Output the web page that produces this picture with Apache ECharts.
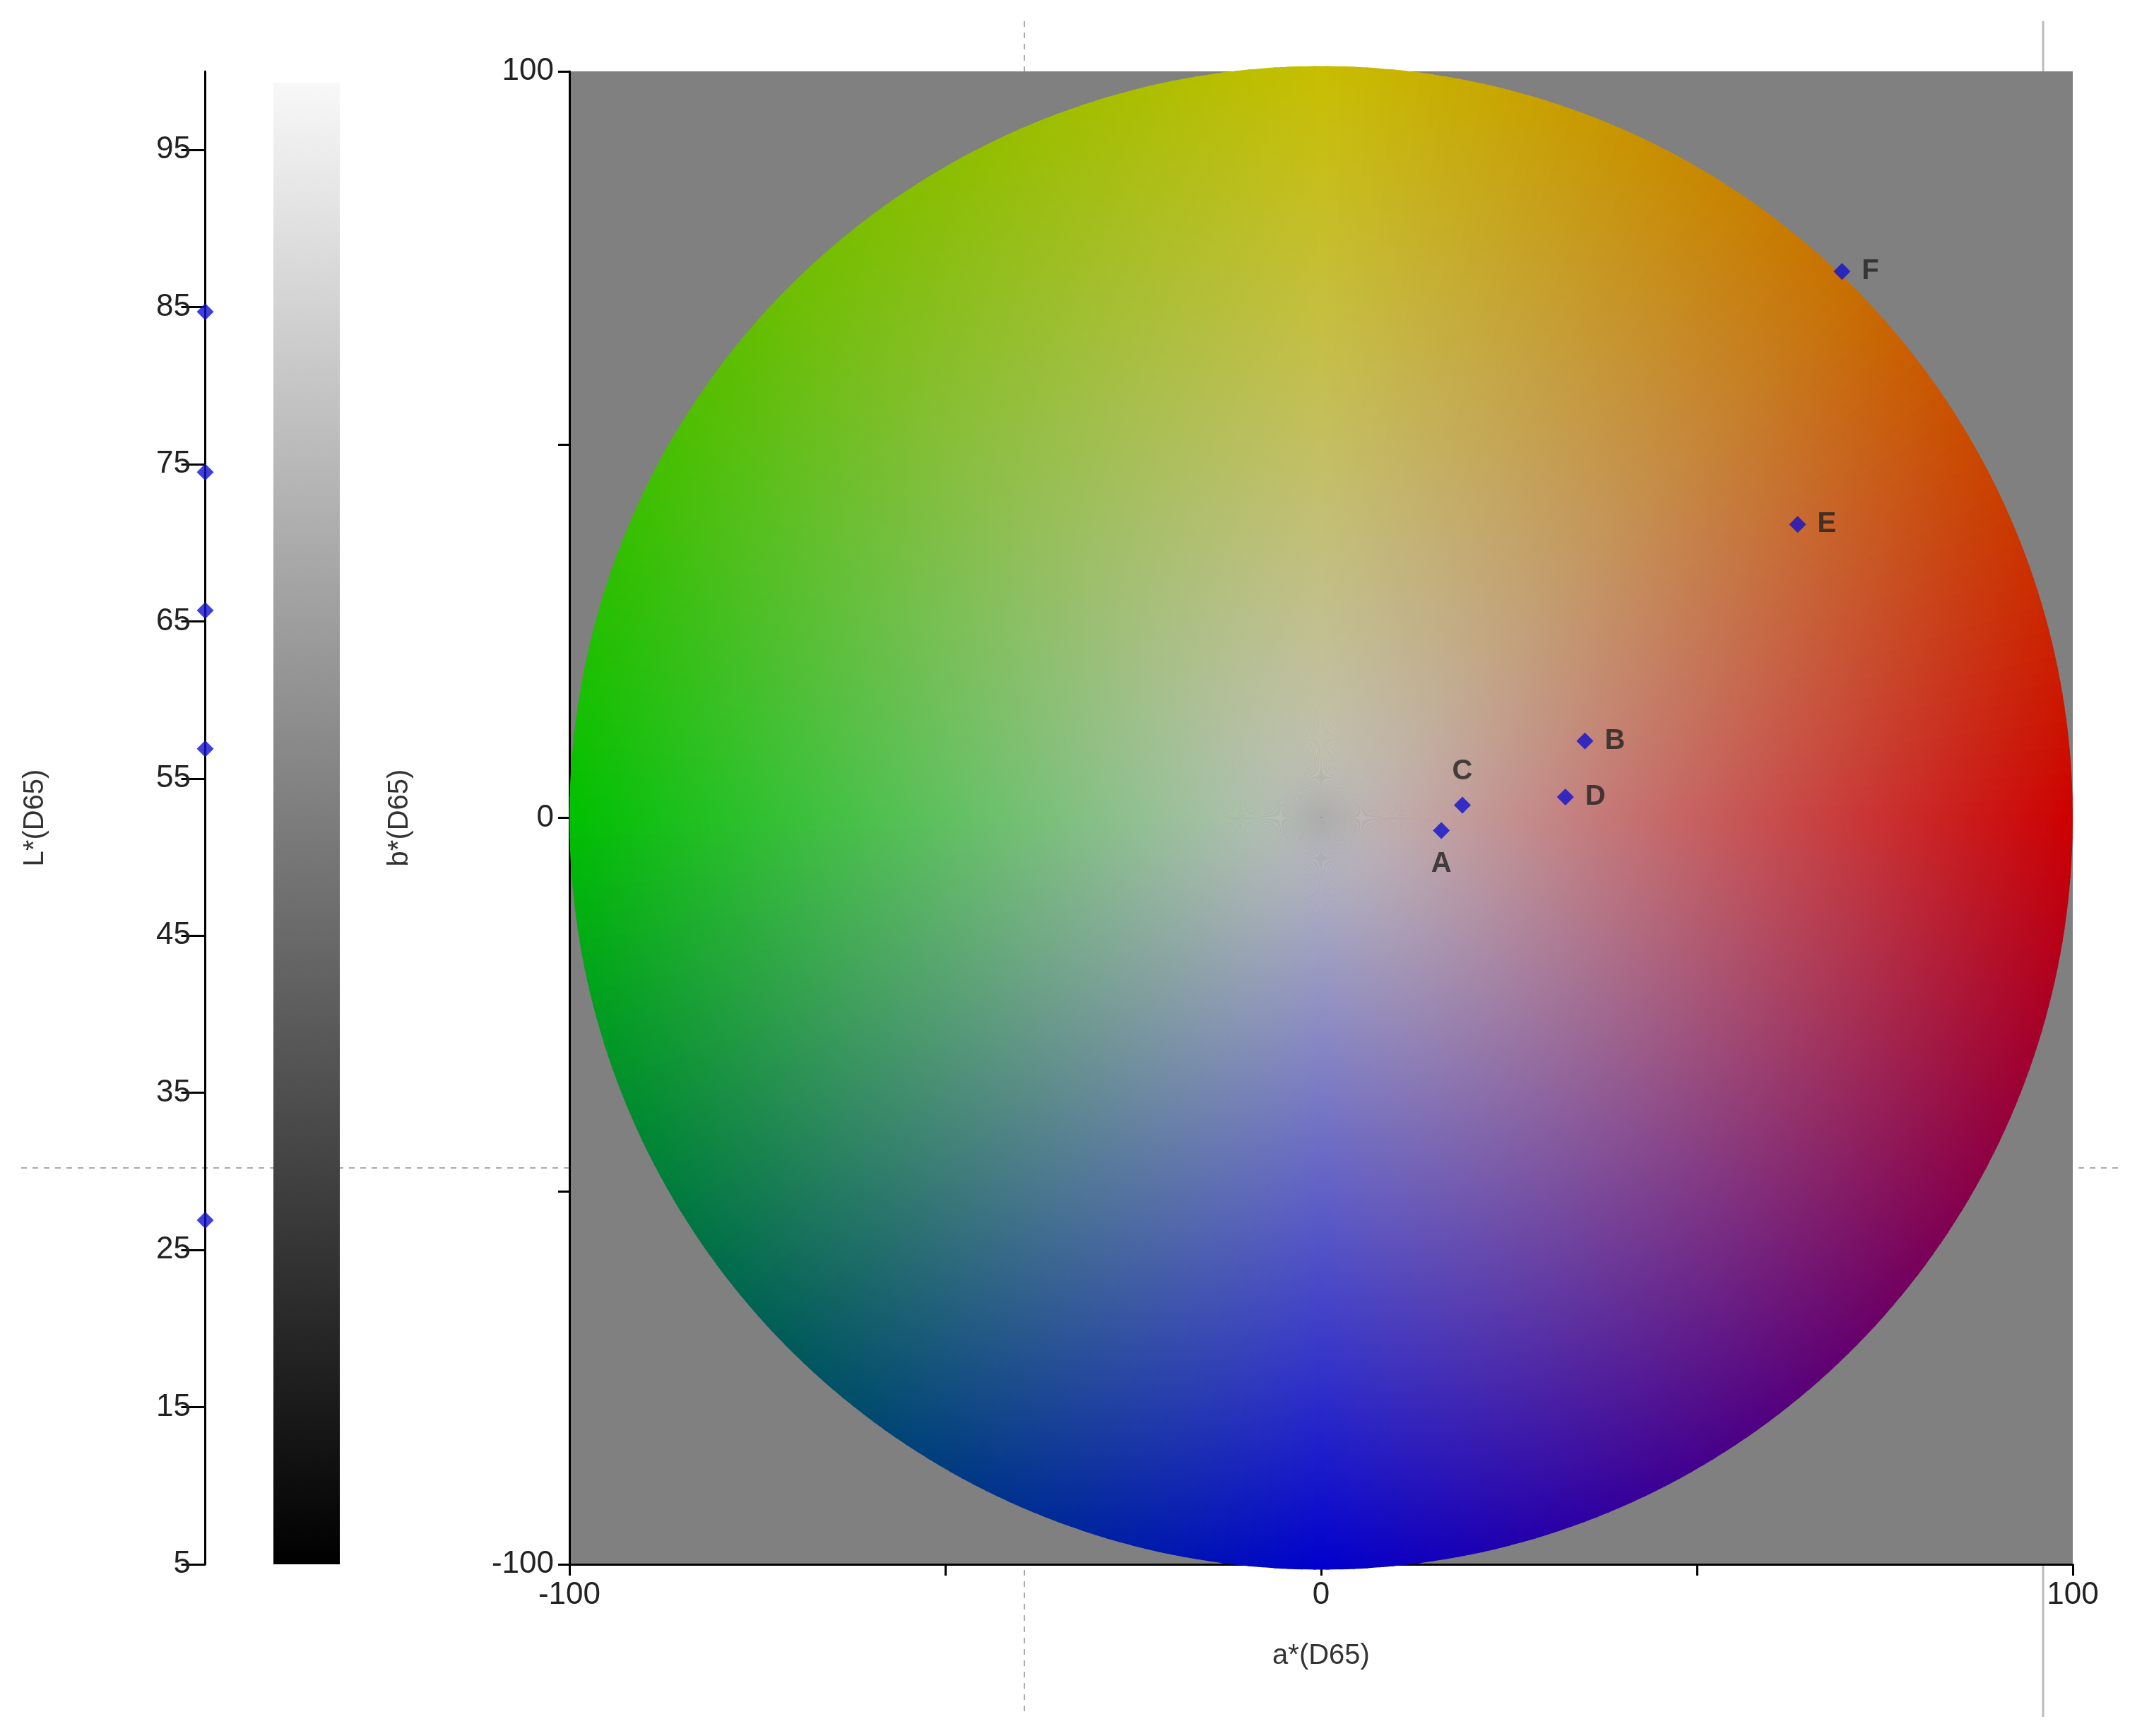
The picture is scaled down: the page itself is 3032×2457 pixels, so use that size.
<!DOCTYPE html>
<html><head><meta charset="utf-8">
<script src="https://cdn.jsdelivr.net/npm/echarts@6/dist/echarts.min.js"></script>
<style>html,body{margin:0;background:#fff}#c{width:3032px;height:2457px}</style>
</head><body><div id="c"></div>
<script>
// sample points in CIELAB
var names = ['A', 'B', 'C', 'D', 'E', 'F'];
var aVals = [16.0, 35.1, 18.8, 32.5, 63.4, 69.3];
var bVals = [-1.7, 10.3, 1.7, 2.8, 39.3, 73.2];
var lVals = [84.7, 74.5, 65.7, 56.9, 26.9];
var labelPos = ['bottom', 'right', 'top', 'right', 'right', 'right'];
// rim colours of the a*b* disc, every 45 degrees from +a*
var rimAngles = [0, 45, 90, 135, 180, 225, 270, 315, 360];
var rimColors = [[205,0,0],[200,110,0],[200,190,0],[110,190,0],[0,192,0],[0,90,90],[0,0,205],[100,0,110],[205,0,0]];

function rimColor(deg) {
  for (var i = 0; i < rimAngles.length - 1; i++) {
    if (deg <= rimAngles[i + 1]) {
      var t = (deg - rimAngles[i]) / (rimAngles[i + 1] - rimAngles[i]);
      var c0 = rimColors[i], c1 = rimColors[i + 1];
      return 'rgb(' + [0,1,2].map(function (k) { return Math.round(c0[k] + (c1[k] - c0[k]) * t); }).join(',') + ')';
    }
  }
}
var wedges = [];
for (var d = 0; d < 360; d++) wedges.push([d]);

var chart = echarts.init(document.getElementById('c'));
var font = 'Liberation Sans';
chart.setOption({
  animation: false,
  textStyle: { fontFamily: font },
  grid: [
    { left: 806, right: 98, top: 101, bottom: 243, backgroundColor: '#808080', show: true, borderWidth: 0 },
    { left: 290, width: 1, top: 101, bottom: 243 }
  ],
  xAxis: [
    { gridIndex: 0, type: 'value', min: -100, max: 100, interval: 50,
      name: 'a*(D65)', nameLocation: 'middle', nameGap: 110, nameTextStyle: { fontSize: 40, color: '#333' },
      axisLine: { onZero: false, lineStyle: { color: '#000', width: 3 } },
      axisTick: { length: 16, lineStyle: { color: '#000', width: 3 } },
      axisLabel: { fontSize: 44, color: '#222', margin: 22, formatter: function (v) { return v % 100 === 0 ? v : ''; } },
      splitLine: { show: false } },
    { gridIndex: 1, type: 'value', show: false, min: -1, max: 1 }
  ],
  yAxis: [
    { gridIndex: 0, type: 'value', min: -100, max: 100, interval: 50,
      name: 'b*(D65)', nameLocation: 'middle', nameGap: 220, nameTextStyle: { fontSize: 40, color: '#333' },
      axisLine: { onZero: false, lineStyle: { color: '#000', width: 3 } },
      axisTick: { length: 16, lineStyle: { color: '#000', width: 3 } },
      axisLabel: { fontSize: 44, color: '#222', margin: 22, formatter: function (v) { return v % 100 === 0 ? v : ''; } },
      splitLine: { show: false } },
    { gridIndex: 1, type: 'value', min: 5, max: 100, interval: 10,
      name: 'L*(D65)', nameLocation: 'middle', nameGap: 220, nameTextStyle: { fontSize: 40, color: '#333' },
      axisLine: { lineStyle: { color: '#000', width: 3 } },
      axisTick: { inside: false, length: 34, lineStyle: { color: '#000', width: 3 } },
      axisLabel: { fontSize: 44, color: '#222', margin: 20, showMaxLabel: false },
      splitLine: { show: false } }
  ],
  graphic: [
    { type: 'rect', shape: { x: 387, y: 117, width: 94, height: 2097 },
      style: { fill: new echarts.graphic.LinearGradient(0, 0, 0, 1, [{ offset: 0, color: '#f8f8f8' }, { offset: 1, color: '#000' }]) } },
    { type: 'line', shape: { x1: 1450, y1: 30, x2: 1450, y2: 2430 }, style: { stroke: '#aaa', lineWidth: 2, lineDash: [8, 8] }, z: -1 },
    { type: 'line', shape: { x1: 30, y1: 1653, x2: 3000, y2: 1653 }, style: { stroke: '#aaa', lineWidth: 2, lineDash: [8, 8] }, z: -1 },
    { type: 'line', shape: { x1: 2892, y1: 30, x2: 2892, y2: 2430 }, style: { stroke: '#bbb', lineWidth: 3 }, z: -1 }
  ],
  series: [
    { type: 'custom', xAxisIndex: 0, yAxisIndex: 0, data: wedges, silent: true, z: 1,
      renderItem: function (params, api) {
        var deg = api.value(0);
        var c = api.coord([0, 0]);
        var r = api.size([100, 0])[0];
        var a0 = -(deg + 0.6) * Math.PI / 180, a1 = -(deg - 0.6) * Math.PI / 180;
        return { type: 'sector',
          shape: { cx: c[0], cy: c[1], r0: 0, r: r, startAngle: a0, endAngle: a1 },
          style: { fill: { type: 'radial', x: c[0], y: c[1], r: r, global: true,
            colorStops: [{ offset: 0, color: '#c0c0c0' }, { offset: 1, color: rimColor(deg) }] } } };
      } },
    { type: 'scatter', xAxisIndex: 0, yAxisIndex: 0, z: 5, symbol: 'diamond', symbolSize: 24,
      itemStyle: { color: '#1010d0' },
      data: names.map(function (n, i) {
        return { value: [aVals[i], bVals[i]], name: n,
          label: { show: true, position: labelPos[i], formatter: n, fontSize: 40, fontWeight: 'bold', color: '#222', distance: 16 } };
      }) },
    { type: 'scatter', xAxisIndex: 1, yAxisIndex: 1, z: 5, symbol: 'diamond', symbolSize: 24,
      itemStyle: { color: '#1010d0' },
      data: lVals.map(function (v) { return [0, v]; }) }
  ]
});
</script></body></html>
